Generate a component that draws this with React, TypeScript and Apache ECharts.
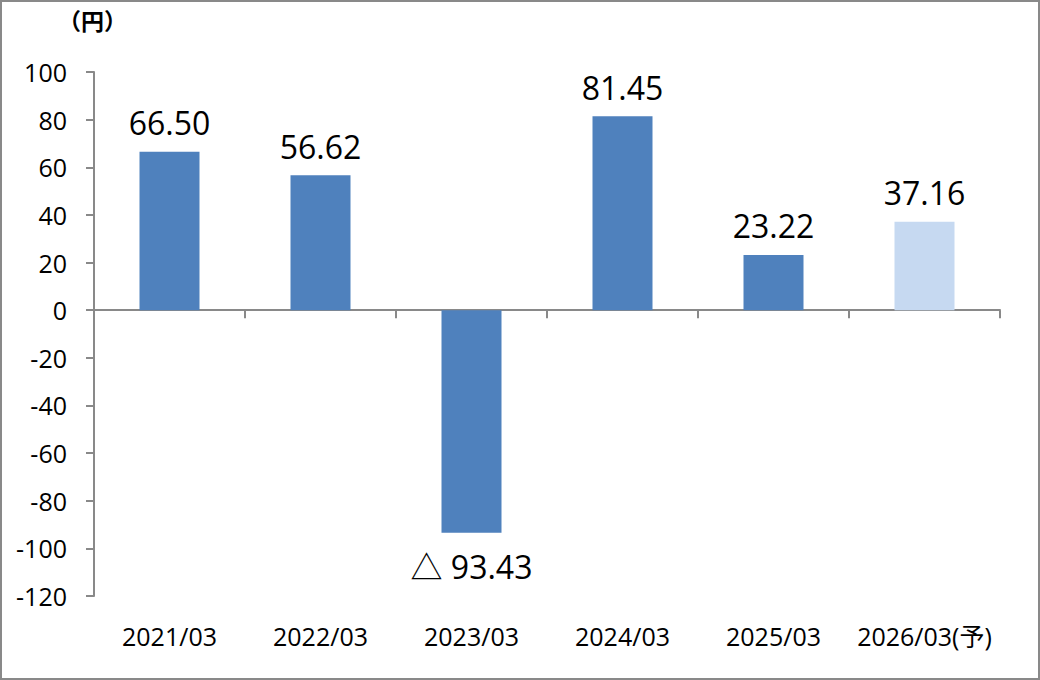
import React, { useEffect, useRef } from "react";
import * as echarts from "echarts";

const categories = ["2021/03", "2022/03", "2023/03", "2024/03", "2025/03", "2026/03(予)"];
const values = [66.5, 56.62, -93.43, 81.45, 23.22, 37.16];
const forecast = [false, false, false, false, false, true];
const unitLabel = "（円）";

const FONT = "'Open Sans', 'Noto Sans CJK JP', sans-serif";
const AXIS = "#898989";

export default function App() {
  const ref = useRef<HTMLDivElement>(null);
  useEffect(() => {
    document.body.style.margin = "0";
    const chart = echarts.init(ref.current!, null, { renderer: "svg" });
    const data = values.map((v, i) => ({
      value: v,
      itemStyle: { color: forecast[i] ? "#C6D9F1" : "#4F81BD" },
      label: v < 0 ? { position: "bottom", distance: 18 } : { position: "top", distance: 13 },
    }));
    chart.setOption({
      animation: false,
      backgroundColor: "#ffffff",
      grid: { left: 94, right: 40, top: 72, bottom: 84, containLabel: false },
      graphic: [
        {
          type: "rect",
          shape: { x: 1, y: 1, width: 1038, height: 678 },
          style: { fill: "none", stroke: AXIS, lineWidth: 2 },
          silent: true,
        },
        {
          type: "text",
          left: 58,
          top: 8,
          style: { text: unitLabel, font: "bold 23px 'Noto Sans CJK JP'", fill: "#000" },
        },
      ],
      xAxis: [
        {
          type: "category",
          data: categories,
          axisLine: { onZero: true, lineStyle: { color: AXIS, width: 2 } },
          axisTick: { show: true, length: 8, interval: 0, lineStyle: { color: AXIS, width: 2 } },
          axisLabel: { show: false },
          splitLine: { show: false },
        },
        {
          type: "category",
          data: categories,
          position: "bottom",
          axisLine: { show: false, onZero: false },
          axisTick: { show: false },
          axisLabel: { show: true, margin: 27, fontSize: 25, color: "#000", fontFamily: FONT, interval: 0 },
          splitLine: { show: false },
        },
      ],
      yAxis: {
        type: "value",
        min: -120,
        max: 100,
        interval: 20,
        axisLine: { show: true, lineStyle: { color: AXIS, width: 2 } },
        axisTick: { show: true, length: 8, lineStyle: { color: AXIS, width: 2 } },
        axisLabel: { margin: 27, fontSize: 25, color: "#000", fontFamily: FONT },
        splitLine: { show: false },
      },
      series: [
        {
          type: "bar",
          xAxisIndex: 0,
          data,
          barWidth: 60,
          label: {
            show: true,
            fontSize: 32,
            color: "#000",
            fontFamily: FONT,
            formatter: (p: any) =>
              p.value < 0 ? "△ " + Math.abs(p.value).toFixed(2) : Number(p.value).toFixed(2),
          },
        },
      ],
    });
    return () => chart.dispose();
  }, []);
  return <div ref={ref} style={{ position: "absolute", left: 0, top: 0, width: 1040, height: 680 }} />;
}
